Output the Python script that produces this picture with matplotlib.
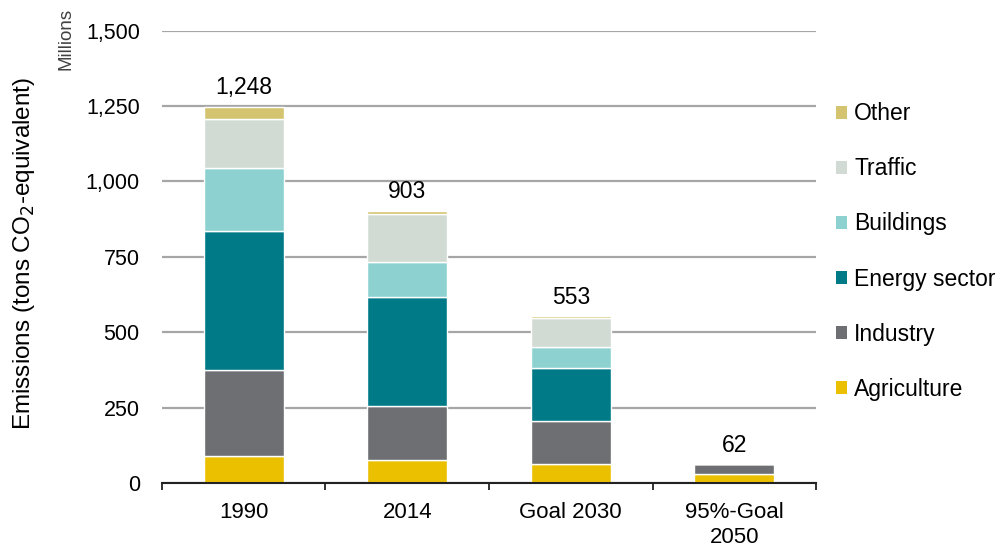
import numpy as np
import matplotlib.pyplot as plt
from matplotlib.patches import Patch
from matplotlib.ticker import FuncFormatter

plt.rcParams['font.family'] = ['Liberation Sans', 'DejaVu Sans']

# --- data (million tons CO2-equivalent) ---
categories = ['1990', '2014', 'Goal 2030', '95%-Goal\n2050']
sectors = ['Agriculture', 'Industry', 'Energy sector', 'Buildings', 'Traffic', 'Other']
agriculture = [90, 76, 63, 30]
industry = [284, 180, 141, 32]
energy = [461, 359, 177, 0]
buildings = [210, 116, 70, 0]
traffic = [163, 162, 95, 0]
other = [40, 10, 7, 0]
totals = [1248, 903, 553, 62]

colors = ['#EBC000', '#6E6F73', '#007A87', '#8DD1D1', '#D1DBD4', '#D4C470']
series = [agriculture, industry, energy, buildings, traffic, other]

fig = plt.figure(figsize=(10.03, 5.5), dpi=100)
ax = fig.add_axes([0.1615, 0.1218, 0.6521, 0.8227])

x = np.arange(len(categories))
bottom = np.zeros(len(categories))
for vals, col in zip(series, colors):
    ax.bar(x, vals, width=0.49, bottom=bottom, color=col,
           edgecolor='white', linewidth=1, zorder=3)
    bottom += np.array(vals)

for xi, t in zip(x, totals):
    ax.text(xi, t + 63, f'{t:,}', ha='center', va='center', fontsize=16.5)

ax.set_xlim(-0.5, len(categories) - 0.5)
ax.set_ylim(0, 1500)
ax.set_yticks(np.arange(0, 1501, 250))
ax.yaxis.set_major_formatter(FuncFormatter(lambda v, p: f'{int(v):,}'))
ax.grid(axis='y', color='#A6A6A6', linewidth=1.6, zorder=0)
ax.tick_params(axis='y', length=0, labelsize=15.5, pad=16)

ax.set_xticks(x)
ax.set_xticklabels(categories, linespacing=1.25)
ax.set_xticks(np.arange(-0.5, len(categories)), minor=True)
ax.tick_params(axis='x', which='major', length=0, labelsize=16, pad=14)
ax.tick_params(axis='x', which='minor', length=5, width=1.3, color='#222222')

for s in ['left', 'right', 'top']:
    ax.spines[s].set_visible(False)
ax.spines['bottom'].set_color('#222222')
ax.spines['bottom'].set_linewidth(1.5)
ax.spines['bottom'].set_zorder(4)

fig.text(0.024, 0.54, 'Emissions (tons CO$_2$-equivalent)', rotation=90,
         ha='center', va='center', fontsize=17.5)
fig.text(0.066, 0.985, 'Millions', rotation=90, ha='center', va='top',
         fontsize=13.5, color='#404040')

handles = [Patch(facecolor=c, edgecolor='none') for c in colors]
fig.legend(handles[::-1], sectors[::-1], loc='center left',
           bbox_to_anchor=(0.8335, 0.5428), frameon=False, fontsize=16.5,
           handlelength=0.5, handleheight=0.5, handletextpad=0.3,
           labelspacing=1.4, borderpad=0, borderaxespad=0)

fig.savefig('out.png', dpi=100)
